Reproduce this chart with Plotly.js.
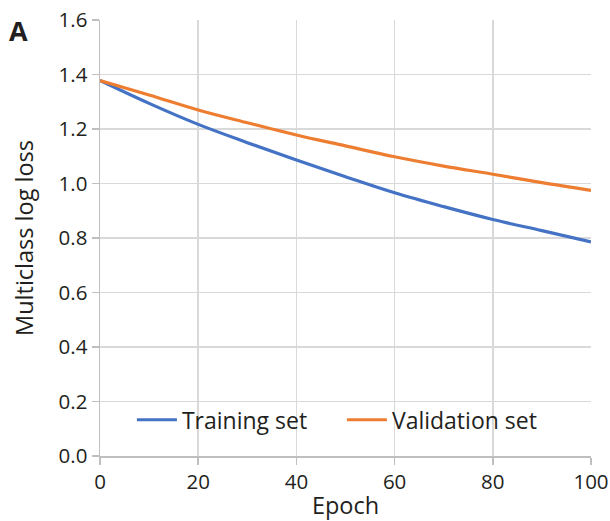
<!DOCTYPE html>
<html><head><meta charset="utf-8">
<script src="https://cdn.plot.ly/plotly-3.0.1.min.js"></script>
<style>body{margin:0;background:#fff}#c{width:610px;height:521px}</style>
</head><body><div id="c"></div>
<script>
const epochs = [0, 10, 20, 30, 40, 50, 60, 70, 80, 90, 100];
const trainingLoss = [1.378, 1.294, 1.217, 1.150, 1.086, 1.025, 0.966, 0.915, 0.868, 0.827, 0.786];
const validationLoss = [1.378, 1.325, 1.270, 1.223, 1.178, 1.138, 1.098, 1.064, 1.034, 1.003, 0.975];
const seriesNames = ["Training set", "Validation set"];
const xTicks = [0, 20, 40, 60, 80, 100];
const yTicks = [0, 0.2, 0.4, 0.6, 0.8, 1.0, 1.2, 1.4, 1.6];
const yTickText = ["0.0","0.2","0.4","0.6","0.8","1.0","1.2","1.4","1.6"];

const font = "Open Sans, sans-serif";
const traces = [
  {x: epochs, y: trainingLoss, name: seriesNames[0], mode: "lines", line: {color: "#4472C4", width: 3.2, shape: "spline"}},
  {x: epochs, y: validationLoss, name: seriesNames[1], mode: "lines", line: {color: "#ED7D31", width: 3.2, shape: "spline"}}
];
const layout = {
  width: 610, height: 521,
  margin: {l: 100, r: 19, t: 20, b: 65},
  paper_bgcolor: "#fff", plot_bgcolor: "#fff",
  font: {family: font, size: 20, color: "#231f20"},
  xaxis: {
    range: [0, 100], tickvals: xTicks, showgrid: true, gridcolor: "#d9d9d9", gridwidth: 1.5,
    zeroline: false, showline: true, linecolor: "#bfbfbf", linewidth: 1.5,
    ticks: "outside", ticklen: 7, tickcolor: "#bfbfbf", tickwidth: 1.5,
    tickfont: {size: 20.5},
    title: {text: "Epoch", font: {size: 23.5}, standoff: 4}
  },
  yaxis: {
    range: [0, 1.6], tickvals: yTicks, ticktext: yTickText, showgrid: true, gridcolor: "#d9d9d9", gridwidth: 1.5,
    zeroline: false, showline: true, linecolor: "#bfbfbf", linewidth: 1.5,
    ticks: "outside", ticklen: 7, tickcolor: "#bfbfbf", tickwidth: 1.5,
    tickfont: {size: 20.5},
    title: {text: "Multiclass log loss", font: {size: 23.5}, standoff: 18}
  },
  showlegend: true,
  legend: {orientation: "h", x: 0.065, xanchor: "left", y: 0.083, yanchor: "middle",
           bgcolor: "rgba(0,0,0,0)", font: {size: 23}, itemwidth: 40, entrywidth: 155, entrywidthmode: "pixels"},
  annotations: [{text: "<b>A</b>", xref: "paper", yref: "paper", x: -0.166, y: 0.976, xanchor: "center", yanchor: "middle",
                 showarrow: false, font: {size: 27, family: font, color: "#231f20"}}]
};
Plotly.newPlot("c", traces, layout, {displayModeBar: false, staticPlot: true});
</script></body></html>
